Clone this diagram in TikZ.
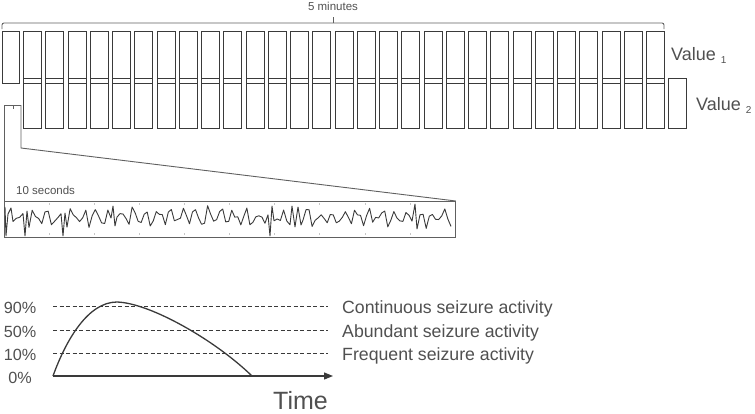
\documentclass[tikz,border=0pt]{standalone}
\usepackage{fontspec}
\setmainfont{Liberation Sans}
\usetikzlibrary{arrows.meta}
\definecolor{ink}{HTML}{3A3A3A}
\definecolor{txt}{HTML}{505050}
\definecolor{thin}{HTML}{606060}
\begin{document}
\begin{tikzpicture}[x=1pt,y=-1pt,
  cell/.style={draw=ink,line width=1.3pt},
  lbl/.style={text=txt,inner sep=0pt},
  guide/.style={draw=thin,line width=0.9pt},
  level/.style={draw=ink,line width=1pt,dash pattern=on 4pt off 2.5pt},
  eegline/.style={draw=ink,line width=0.9pt,line join=round}]
\useasboundingbox (0,0) rectangle (755,413);
% brace over the top row
\draw[guide,rounded corners=2pt] (2,29) -- (2,23) -- (664,23) -- (664,29);
\draw[guide] (333,23) -- (333,17);
\node[lbl,anchor=base,font=\fontsize{11.5}{13}\selectfont] (five) at (333,10) {5 minutes};
% top row of windows
\draw[cell] (2.5,31.5) rectangle (19.5,83.5);
\foreach \i in {0,...,28}{
  \pgfmathsetmacro{\xa}{23.5+round(22.25*\i)}
  \draw[cell] (\xa,31.5) rectangle (\xa+18,83.5);
}
% bottom row of windows
\foreach \i in {0,...,29}{
  \pgfmathsetmacro{\xa}{23.5+round(22.25*\i)}
  \draw[cell] (\xa,78.5) rectangle (\xa+18,128.5);
}
\node[lbl,anchor=base west,font=\fontsize{18}{20}\selectfont] (v1) at (671,60) {Value \raisebox{-3pt}{\fontsize{10}{11}\selectfont 1}};
\node[lbl,anchor=base west,font=\fontsize{18}{20}\selectfont] (v2) at (696,110) {Value \raisebox{-3pt}{\fontsize{10}{11}\selectfont 2}};
% EEG box
\node[draw=thin,line width=0.9pt,inner sep=0pt,minimum width=451pt,minimum height=36pt,anchor=north west] (eeg) at (4,201) {};
\node[lbl,anchor=base west,font=\fontsize{11.5}{13}\selectfont] (tens) at (16,194) {10 seconds};
% zoom bracket
\coordinate (bl) at (4,105);
\coordinate (br) at (21,105);
\coordinate (bm) at (21,148);
\draw[guide] (bl) -- (br);
\draw[guide] (13,105) -- (13,109);
\draw[guide] (bl) -- (bl |- eeg.north);
\draw[guide] (br) -- (bm) -- (eeg.north east);
% faint second marks
\foreach \k in {1,...,9}{
  \draw[gray!45,line width=0.6pt] ({4+45.1*\k},203) -- ({4+45.1*\k},205);
  \draw[gray!45,line width=0.6pt] ({4+45.1*\k},233) -- ({4+45.1*\k},235);
}
% EEG trace
\pgfmathsetseed{7}
\def\eegf{217-6*sin(29*(\x-230))-3*sin(47*(\x-230)+40)+3.5*rand}
\draw[eegline] (5,207) -- (6,236) -- (8,214) -- (11,208)
  -- plot[domain=13:23,samples=4] (\x,{\eegf})
  -- (25,236) -- (27,211)
  -- plot[domain=29:61,samples=11] (\x,{\eegf})
  -- (63,236) -- (65,213)
  -- plot[domain=67:111,samples=15] (\x,{\eegf})
  -- (113,206) -- (115,226)
  -- plot[domain=117:268,samples=51] (\x,{\eegf})
  -- (270,236) -- (272,206)
  -- plot[domain=274:290,samples=6] (\x,{\eegf})
  -- (292,206) -- (295,227) -- (298,207) -- (301,225)
  -- plot[domain=303:412,samples=37] (\x,{\eegf})
  -- (415,204) -- (417,229)
  -- plot[domain=420:451,samples=11] (\x,{\eegf});
% bottom chart
\coordinate (o) at (53,376);
\coordinate (tip) at (333,376);
\coordinate (e90) at (328,306);
\coordinate (e50) at (328,330);
\coordinate (e10) at (328,353);
\draw[level] (53,306) -- (e90);
\draw[level] (53,330) -- (e50);
\draw[level] (53,353) -- (e10);
\draw[draw=ink,line width=1.2pt,-{Triangle[length=9pt,width=7pt]}] (o) -- (tip);
\draw[draw=ink,line width=1.3pt] (o) .. controls (66,340) and (88,302) .. (117,302)
   .. controls (150,303) and (215,340) .. (252,376);
\node[lbl,anchor=base,font=\fontsize{16.2}{18}\selectfont] (p90) at (20,313) {90\%};
\node[lbl,anchor=base,font=\fontsize{16.2}{18}\selectfont] (p50) at (20,337) {50\%};
\node[lbl,anchor=base,font=\fontsize{16.2}{18}\selectfont] (p10) at (20,360) {10\%};
\node[lbl,anchor=base,font=\fontsize{16.2}{18}\selectfont] (p0) at (20,383) {0\%};
\node[lbl,anchor=base west,font=\fontsize{17.7}{20}\selectfont] (c90) at (342,313.5) {Continuous seizure activity};
\node[lbl,anchor=base west,font=\fontsize{17.7}{20}\selectfont] (c50) at (342,337.5) {Abundant seizure activity};
\node[lbl,anchor=base west,font=\fontsize{17.7}{20}\selectfont] (c10) at (342,360.5) {Frequent seizure activity};
\node[lbl,anchor=base west,font=\fontsize{25}{28}\selectfont] (time) at (273,409) {Time};
\end{tikzpicture}
\end{document}
